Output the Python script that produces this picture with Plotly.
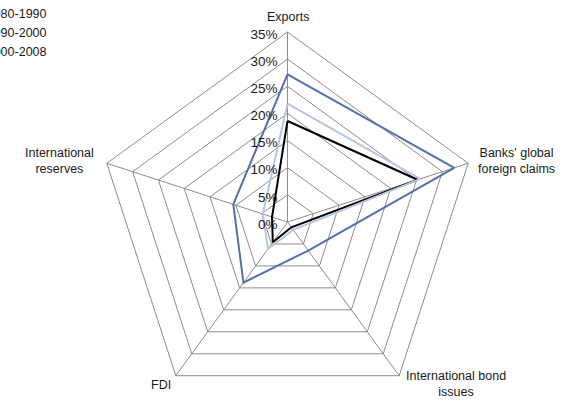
import math
import plotly.graph_objects as go

# Radar categories, listed clockwise from the top
categories = ["Exports", "Banks' global foreign claims", "International bond issues",
              "FDI", "International reserves"]
category_labels = ["Exports", "Banks' global<br>foreign claims", "International bond<br>issues",
                   "FDI", "International<br>reserves"]

# Share (%) per period
period_names = ["1980-1990", "1990-2000", "2000-2008"]
values_1980_1990 = [18.6, 25.2, 1.2, 4.6, 3.0]
values_1990_2000 = [21.8, 25.7, 1.8, 6.1, 4.8]
values_2000_2008 = [27.2, 32.3, 6.5, 13.8, 10.5]

radial_ticks = [0, 5, 10, 15, 20, 25, 30, 35]
radial_tick_text = ["0%", "5%", "10%", "15%", "20%", "25%", "30%", "35%"]

series = [
    (period_names[0], values_1980_1990, "#000000"),
    (period_names[1], values_1990_2000, "#B7C6DF"),
    (period_names[2], values_2000_2008, "#5470AB"),
]

GRID = "#8c8c8c"
TEXT = "#1a1a1a"
W, H = 576, 412
cx, R = 287.5, 190          # polar centre x and outer radius, px
cy = H - R                  # polar centre y from the top, px
font_family = "Arial, 'Liberation Sans', sans-serif"

fig = go.Figure()
for name, vals, color in series:
    fig.add_trace(go.Scatterpolar(
        r=vals + vals[:1],
        theta=categories + categories[:1],
        mode="lines",
        name=name,
        line=dict(color=color, width=2),
        cliponaxis=False,
    ))

# Category captions, centred, offset from each outer vertex
label_offsets = [(0, -15), (48, -2), (57, 8), (-15, 9), (-47, -2)]
for i, (text, (dx, dy)) in enumerate(zip(category_labels, label_offsets)):
    ang = math.radians(90 - 72 * i)
    vx = cx + R * math.cos(ang)
    vy = cy - R * math.sin(ang)
    fig.add_annotation(
        x=(vx + dx) / W, y=1 - (vy + dy) / H, xref="paper", yref="paper",
        text=text, showarrow=False, align="center",
        xanchor="center", yanchor="middle",
        font=dict(size=12.5, color=TEXT),
    )

fig.update_layout(
    width=W, height=H,
    margin=dict(l=0, r=0, t=0, b=0, autoexpand=False),
    paper_bgcolor="white",
    plot_bgcolor="white",
    font=dict(family=font_family, size=12.5, color=TEXT),
    showlegend=True,
    legend=dict(
        x=-0.0925, y=1.004, xanchor="left", yanchor="top",
        bgcolor="rgba(0,0,0,0)",
        font=dict(size=12.5, color=TEXT),
        tracegroupgap=0,
        itemwidth=30,
    ),
    polar=dict(
        domain=dict(x=[(cx - R) / W, (cx + R) / W], y=[0, 2 * R / H]),
        bgcolor="white",
        gridshape="linear",
        radialaxis=dict(
            range=[0, 35],
            tickvals=radial_ticks,
            ticktext=radial_tick_text,
            angle=90,
            side="counterclockwise",
            showline=False,
            ticks="",
            gridcolor=GRID,
            gridwidth=1,
            tickfont=dict(size=13.5, color=TEXT),
        ),
        angularaxis=dict(
            type="category",
            categoryorder="array",
            categoryarray=categories,
            direction="clockwise",
            rotation=90,
            showline=True,
            linecolor=GRID,
            linewidth=1,
            gridcolor=GRID,
            gridwidth=1,
            ticks="",
            showticklabels=False,
        ),
    ),
)

fig.write_html("out.html")
